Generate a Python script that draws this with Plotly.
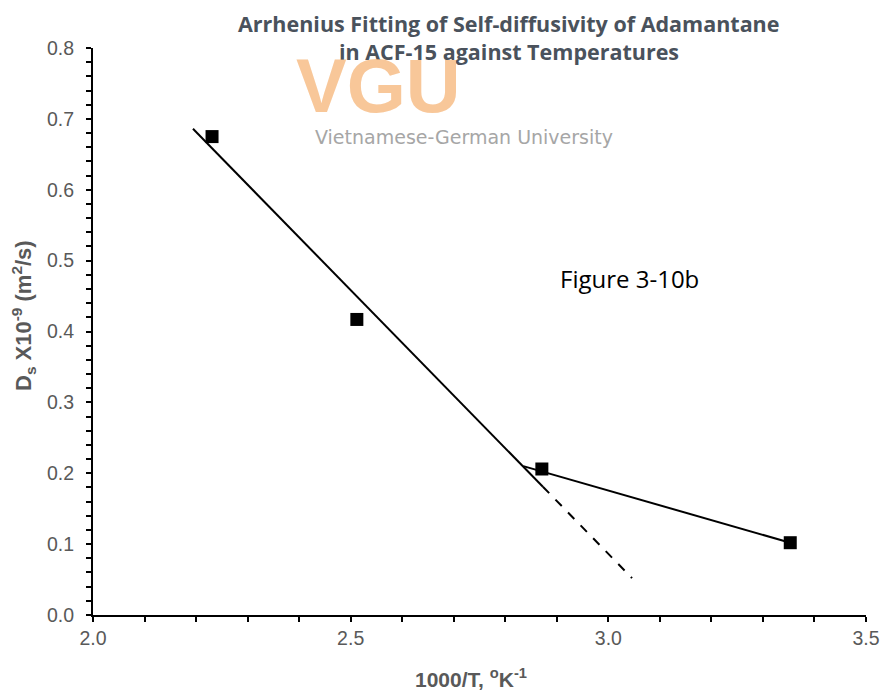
import plotly.graph_objects as go

# Data
inv_T = [2.231, 2.512, 2.871, 3.353]          # 1000/T (K^-1)
Ds = [0.675, 0.417, 0.206, 0.102]             # Ds x 1e-9 m2/s

fit1_x = [2.194, 2.873]                       # solid fit (high T)
fit1_y = [0.686, 0.181]
fit1_ext_x = [2.873, 3.046]                   # dashed extrapolation
fit1_ext_y = [0.181, 0.052]
fit2_x = [2.835, 3.353]                       # low-T fit
fit2_y = [0.210, 0.102]

x_range = [2.0, 3.5]
y_range = [0.0, 0.8]

fig = go.Figure()
fig.add_trace(go.Scatter(x=fit1_x, y=fit1_y, mode="lines",
                         line=dict(color="black", width=2), showlegend=False))
fig.add_trace(go.Scatter(x=fit1_ext_x, y=fit1_ext_y, mode="lines",
                         line=dict(color="black", width=2, dash="dash"), showlegend=False))
fig.add_trace(go.Scatter(x=fit2_x, y=fit2_y, mode="lines",
                         line=dict(color="black", width=2), showlegend=False))
fig.add_trace(go.Scatter(x=inv_T, y=Ds, mode="markers",
                         marker=dict(symbol="square", size=13, color="black"),
                         showlegend=False))

tickfont = dict(family="Liberation Sans, Arial", size=19.5, color="#595959")

fig.update_xaxes(range=x_range, dtick=0.5, tickformat=".1f", showgrid=False, zeroline=False,
                 showline=True, linecolor="black", linewidth=2, automargin=False,
                 ticks="outside", ticklen=5, tickwidth=1.5, tickcolor="black",
                 minor=dict(dtick=0.1, ticks="outside", ticklen=5, tickwidth=1.5, tickcolor="black"),
                 tickfont=tickfont)
fig.update_yaxes(range=y_range, dtick=0.1, tickformat=".1f", showgrid=False, zeroline=False,
                 showline=True, linecolor="black", linewidth=2, automargin=False,
                 ticks="outside", ticklen=5, tickwidth=1.5, tickcolor="black",
                 minor=dict(dtick=0.02, ticks="outside", ticklen=5, tickwidth=1.5, tickcolor="black"),
                 tickfont=tickfont, ticklabelstandoff=8)

def px_x(p):
    return (p - 93) / 773

def px_y(p):
    return (615 - p) / 567

# axis titles
fig.add_annotation(text="1000/T, <sup>o</sup>K<sup>-1</sup>", xref="paper", yref="paper",
                   x=px_x(471), y=px_y(678), xanchor="center", yanchor="middle", showarrow=False,
                   font=dict(family="Liberation Sans, Arial", size=21, color="#595959", weight="bold"))
fig.add_annotation(text="D<sub>s</sub> X10<sup>-9</sup> (m<sup>2</sup>/s)", xref="paper", yref="paper",
                   x=px_x(23), y=px_y(316), xanchor="center", yanchor="middle", showarrow=False,
                   textangle=-90,
                   font=dict(family="Liberation Sans, Arial", size=22, color="#595959", weight="bold"))

title_font = dict(family="Open Sans", size=21.5, color="#4a525c", weight="bold")
fig.add_annotation(text="Arrhenius Fitting of Self-diffusivity of Adamantane", xref="paper", yref="paper",
                   x=px_x(509), y=px_y(23), xanchor="center", yanchor="middle",
                   showarrow=False, font=title_font)
fig.add_annotation(text="in ACF-15 against Temperatures", xref="paper", yref="paper",
                   x=px_x(509), y=px_y(51), xanchor="center", yanchor="middle",
                   showarrow=False, font=title_font)

# watermark
fig.add_annotation(text="VGU", xref="paper", yref="paper", x=px_x(378), y=px_y(85),
                   xanchor="center", yanchor="middle", showarrow=False,
                   font=dict(family="Liberation Sans", size=76, color="rgba(246,185,128,0.8)", weight="bold"))
fig.add_annotation(text="Vietnamese-German University", xref="paper", yref="paper",
                   x=px_x(464), y=px_y(137), xanchor="center", yanchor="middle", showarrow=False,
                   font=dict(family="DejaVu Sans", size=19, color="#a6a6a6"))

fig.add_annotation(text="Figure 3-10b", xref="paper", yref="paper",
                   x=px_x(629), y=px_y(278), xanchor="center", yanchor="middle", showarrow=False,
                   font=dict(family="Open Sans", size=24, color="black"))

fig.update_layout(width=880, height=690, margin=dict(l=93, r=14, t=48, b=75),
                  plot_bgcolor="white", paper_bgcolor="white")

fig.write_html("out.html")
